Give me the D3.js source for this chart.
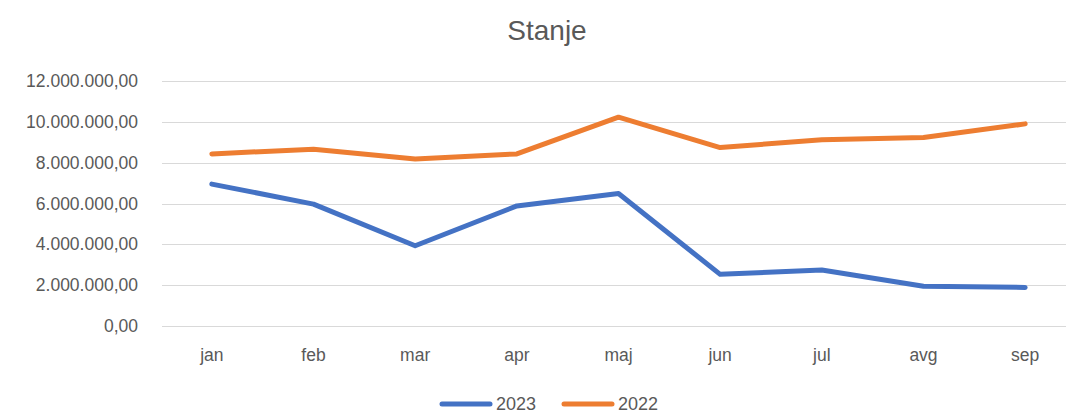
<!DOCTYPE html>
<html>
<head>
<meta charset="utf-8">
<script src="https://cdn.jsdelivr.net/npm/d3@7"></script>
<style>
  body { margin: 0; background: #fff; }
  text { font-family: "Liberation Sans", Arial, sans-serif; fill: #595959; }
</style>
</head>
<body>
<svg id="chart"></svg>
<script>
// data
const months = ["jan", "feb", "mar", "apr", "maj", "jun", "jul", "avg", "sep"];
const values2023 = [6950000, 5970000, 3930000, 5880000, 6490000, 2530000, 2740000, 1950000, 1890000];
const values2022 = [8430000, 8660000, 8180000, 8430000, 10230000, 8740000, 9120000, 9230000, 9900000];
const yTicks = [0, 2000000, 4000000, 6000000, 8000000, 10000000, 12000000];
const seriesNames = ["2023", "2022"];
const colors = ["#4472C4", "#ED7D31"];

function drawChart() {
  const width = 1066;
  const height = 415;

  const svg = d3.select("#chart")
    .attr("width", width)
    .attr("height", height);

  // plot area runs a bit past the right edge like in the screenshot
  const x = d3.scalePoint()
    .domain(months)
    .range([161, 1076])
    .padding(0.5);

  const y = d3.scaleLinear()
    .domain([0, 12000000])
    .range([326, 81]);

  const locale = d3.formatLocale({ decimal: ",", thousands: ".", grouping: [3], currency: ["", ""] });
  const fmt = locale.format(",.2f");

  // title
  svg.append("text")
    .attr("x", 547)
    .attr("y", 40)
    .attr("text-anchor", "middle")
    .style("font-size", "28px")
    .text("Stanje");

  // gridlines
  svg.append("g")
    .selectAll("line")
    .data(yTicks)
    .enter()
    .append("line")
    .attr("x1", 162)
    .attr("x2", 1076)
    .attr("y1", d => Math.round(y(d)) + 0.5)
    .attr("y2", d => Math.round(y(d)) + 0.5)
    .attr("stroke", "#D9D9D9")
    .attr("stroke-width", 1);

  // y labels
  svg.append("g")
    .selectAll("text")
    .data(yTicks)
    .enter()
    .append("text")
    .attr("x", 138)
    .attr("y", d => y(d))
    .attr("dy", "0.35em")
    .attr("text-anchor", "end")
    .style("font-size", "17.5px")
    .text(d => fmt(d));

  // x labels
  svg.append("g")
    .selectAll("text")
    .data(months)
    .enter()
    .append("text")
    .attr("x", d => x(d))
    .attr("y", 361)
    .attr("text-anchor", "middle")
    .style("font-size", "17.5px")
    .text(d => d);

  const line = d3.line()
    .x((d, i) => x(months[i]))
    .y(d => y(d));

  [values2023, values2022].forEach((vals, i) => {
    svg.append("path")
      .datum(vals)
      .attr("fill", "none")
      .attr("stroke", colors[i])
      .attr("stroke-width", 5)
      .attr("stroke-linejoin", "round")
      .attr("stroke-linecap", "round")
      .attr("d", line);
  });

  // legend
  const legendX = [442, 564];
  const legend = svg.append("g");
  seriesNames.forEach((name, i) => {
    legend.append("line")
      .attr("x1", legendX[i])
      .attr("x2", legendX[i] + 48)
      .attr("y1", 404)
      .attr("y2", 404)
      .attr("stroke", colors[i])
      .attr("stroke-width", 5)
      .attr("stroke-linecap", "round");
    legend.append("text")
      .attr("x", legendX[i] + 54)
      .attr("y", 404)
      .attr("dy", "0.35em")
      .style("font-size", "18px")
      .text(name);
  });
}

window.onload = drawChart;
</script>
</body>
</html>
